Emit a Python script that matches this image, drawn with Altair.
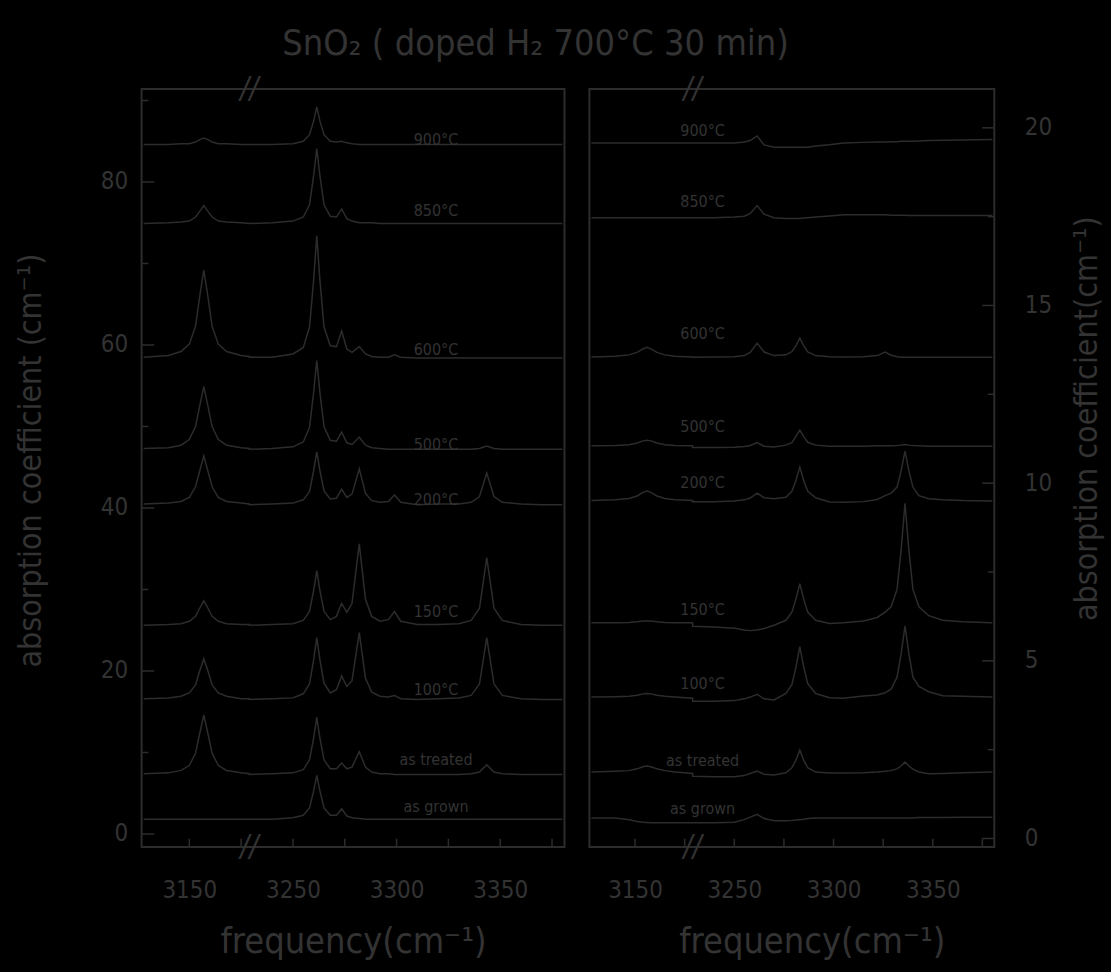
import altair as alt
import pandas as pd

# ---------------- text ----------------
TITLE = "SnO₂ ( doped H₂ 700°C 30 min)"
X_TITLE = "frequency(cm⁻¹)"
Y_TITLE_LEFT = "absorption coefficient (cm⁻¹)"
Y_TITLE_RIGHT = "absorption coefficient(cm⁻¹)"

series_names = ["900°C", "850°C", "600°C", "500°C", "200°C", "150°C", "100°C",
                "as treated", "as grown"]

# ---------------- axis break (3179 .. 3229 cm-1 removed) ----------------
BREAK_END = 3179
BREAK_GAP = 50
x_tick_values = [3200, 3250, 3300, 3350]          # display positions
x_tick_labels = ["3150", "3250", "3300", "3350"]  # printed labels
x_minor_ticks = [3200, 3225, 3250, 3275, 3300, 3325, 3350, 3375]
x_domain = [3177, 3381]
break_pos = 3229

left_y_ticks = [0, 20, 40, 60, 80]
left_y_minor = [0, 10, 20, 30, 40, 50, 60, 70, 80, 90]
left_y_domain = [-1.6, 91.4]
right_y_ticks = [0, 5, 10, 15, 20]
right_y_minor = [0, 2.5, 5, 7.5, 10, 12.5, 15, 17.5, 20]
right_y_domain = [-0.24, 21.09]

# ---------------- left panel: frequencies (cm-1) ----------------
left_freq = [3128, 3140, 3146, 3150, 3153, 3155, 3157, 3159, 3161, 3164, 3168, 3175, 3179,
             3229, 3240, 3250, 3255, 3258, 3260, 3261.5, 3263, 3265, 3268, 3271, 3273.5,
             3276, 3278.5, 3282, 3285, 3288, 3292, 3296, 3299, 3302, 3310, 3320, 3330,
             3336, 3340, 3343.5, 3347, 3351, 3360, 3370, 3380]
left_base = [84.6, 74.9, 58.4, 47.2, 40.4, 25.6, 16.5, 7.3, 1.8]
left_900 = [0, 0, .1, .1, .3, .6, .8, .6, .3, .1, .1, 0, 0,
            0, 0, .1, .4, 1.2, 2.9, 4.6, 2.9, 1.2, .4, .3, .4, .2, .1, 0, 0, 0, 0, 0, 0,
            0, 0, 0, 0, 0, 0, 0, 0, 0, 0, 0, 0]
left_850 = [0, .1, .2, .3, .8, 1.5, 2.2, 1.5, .8, .3, .2, .1, 0,
            0, .1, .3, .8, 2.3, 5.9, 9.2, 5.9, 2.3, .9, .8, 1.8, .6, .3, .1, .1, .1, 0, 0,
            0, 0, 0, 0, 0, 0, 0, 0, 0, 0, 0, 0, 0]
left_600 = [.1, .3, .8, 1.7, 3.9, 7.5, 10.8, 7.5, 3.9, 1.7, .8, .3, .2,
            .1, .1, .5, 1.3, 3.8, 9.6, 15, 9.6, 3.8, 1.5, 1.4, 3.3, 1.1, .7, 1.4, .5, .2,
            .1, .1, .4, .1, 0, 0, 0, 0, 0, 0, 0, 0, 0, 0, 0]
left_500 = [.1, .2, .5, 1.2, 2.8, 5.3, 7.7, 5.3, 2.8, 1.2, .5, .2, .1,
            0, .1, .3, .9, 2.7, 7, 10.9, 7, 2.8, 1.1, 1, 2.1, .8, .6, 1.5, .5, .2, .1,
            0, 0, 0, 0, 0, 0, 0, .1, .4, .1, 0, 0, 0, 0]
left_200 = [.1, .2, .4, .9, 2.2, 4.1, 6, 4.1, 2.2, .9, .4, .2, .1,
            0, .1, .2, .6, 1.6, 4.2, 6.5, 4.2, 1.7, .7, .8, 1.9, .9, 1.3, 4.4, 1.4, .5,
            .3, .4, 1.2, .3, 0, .1, .1, .3, 1, 3.9, 1, .3, .1, 0, 0]
left_150 = [0, .1, .2, .5, 1.1, 2.1, 3, 2.1, 1.1, .5, .2, .1, .1,
            0, .1, .2, .6, 1.7, 4.3, 6.7, 4.3, 1.7, .7, 1.1, 2.7, 1.6, 2.7, 10, 3.2, 1.1,
            .5, .7, 1.7, .5, .1, .1, .2, .6, 2.1, 8.3, 2.1, .6, .1, 0, 0]
left_100 = [.1, .2, .4, .8, 1.8, 3.5, 5, 3.5, 1.8, .8, .4, .1, .1,
            0, .1, .2, .7, 1.9, 4.9, 7.6, 4.9, 2, .8, 1.2, 2.9, 1.6, 2.3, 8.2, 2.6, .9,
            .4, .3, .5, .1, 0, .1, .2, .5, 1.9, 7.6, 1.9, .5, .1, 0, 0]
left_treated = [.1, .2, .5, 1.1, 2.6, 5, 7.3, 5, 2.6, 1.1, .5, .2, .1,
                0, .1, .2, .6, 1.8, 4.5, 7, 4.5, 1.8, .7, .7, 1.4, .7, .9, 2.8, .9, .3,
                .1, .1, 0, 0, 0, 0, 0, .1, .3, 1.2, .3, .1, 0, 0, 0]
left_grown = [0, 0, 0, 0, 0, 0, 0, 0, 0, 0, 0, 0, 0,
              0, 0, .2, .5, 1.4, 3.5, 5.4, 3.5, 1.4, .5, .5, 1.3, .4, .2, .1, 0, 0,
              0, 0, 0, 0, 0, 0, 0, 0, 0, 0, 0, 0, 0, 0, 0]
left_offsets = [left_900, left_850, left_600, left_500, left_200, left_150, left_100,
                left_treated, left_grown]
left_label_pos = 3319
left_label_v = [85.1, 76.4, 59.4, 47.7, 41.0, 27.2, 17.7, 9.1, 3.3]

# ---------------- right panel ----------------
right_freq = [3128, 3140, 3147, 3151, 3154, 3156, 3158, 3161, 3165, 3170, 3179,
              3229, 3240, 3250, 3255, 3258, 3261.5, 3265, 3270, 3276, 3279, 3281, 3283,
              3285, 3287, 3291, 3298, 3305, 3315, 3322, 3326, 3329, 3332, 3334, 3336,
              3338, 3340, 3343, 3348, 3355, 3365, 3380]
right_base = [19.57, 17.47, 13.54, 11.04, 9.5, 6.07, 3.98, 1.87, 0.58]
right_900 = [0, 0, 0, 0, 0, 0, 0, 0, 0, 0, 0,
             0, 0, 0, .03, .07, .2, -.05, -.12, -.12, -.12, -.12, -.12, -.12, -.12, -.08,
             -.05, 0, .02, .03, .03, .04, .04, .05, .05, .05, .05, .06, .07, .08, .09, .1]
right_850 = [0, 0, 0, 0, 0, 0, 0, 0, 0, 0, 0,
             0, 0, .02, .04, .12, .34, .1, 0, -.02, -.02, -.02, -.02, -.01, 0, .02, .05,
             .08, .08, .08, .08, .07, .07, .07, .07, .06, .06, .06, .06, .06, .06, .06]
right_600 = [.01, .03, .07, .14, .24, .28, .24, .14, .07, .03, .01,
             0, .01, .02, .05, .14, .4, .15, .05, .07, .16, .32, .54, .32, .15, .05, .02,
             .01, .02, .05, .15, .06, .02, 0, 0, 0, 0, 0, 0, 0, 0, 0]
right_500 = [.01, .02, .04, .09, .15, .17, .15, .09, .04, .02, .01,
             -.04, -.04, -.03, -.01, .02, .1, 0, -.02, .03, .1, .27, .45, .27, .11, .03, 0,
             0, 0, .01, .01, .01, .02, .03, .05, .03, .02, .01, 0, 0, 0, 0]
right_200 = [.01, .03, .07, .14, .24, .28, .24, .14, .07, .03, .01,
             -.02, -.02, 0, .03, .08, .22, .09, .06, .1, .27, .57, .95, .57, .27, .09, -.03,
             -.04, -.02, .04, .15, .22, .39, .84, 1.4, .84, .39, .15, .06, .03, .01, 0]
right_150 = [0, 0, .01, .03, .05, .05, .05, .03, .01, 0, 0,
             -.1, -.12, -.15, -.2, -.22, -.2, -.16, -.07, .07, .3, .66, 1.1, .66, .3, .07,
             -.02, 0, .05, .15, .3, .45, .94, 2.02, 3.36, 2.02, .94, .45, .2, .07, .03, 0]
right_100 = [0, .01, .02, .05, .09, .1, .09, .05, .02, 0, -.03,
             -.12, -.12, -.1, -.05, 0, .08, -.05, -.08, .1, .35, .82, 1.42, .84, .38, .1,
             -.02, -.03, .03, .06, .12, .22, .56, 1.2, 2.0, 1.2, .56, .3, .15, .04, .02, 0]
right_treated = [0, .02, .04, .09, .15, .17, .15, .09, .04, 0, -.04,
                 -.12, -.13, -.13, -.1, -.04, .03, -.06, -.08, -.02, .12, .33, .62, .33,
                 .12, 0, -.03, -.03, -.02, 0, .02, .04, .09, .17, .28, .17, .08, 0, -.05,
                 -.04, -.02, 0]
right_grown = [0, 0, -.05, -.1, -.12, -.13, -.14, -.14, -.14, -.14, -.14,
               -.14, -.14, -.12, -.05, .02, .1, -.02, -.08, -.08, -.07, -.06, -.05, -.04,
               -.02, 0, 0, 0, 0, 0, 0, 0, 0, 0, 0, 0, 0, .01, .01, .01, .02, .02]
right_offsets = [right_900, right_850, right_600, right_500, right_200, right_150,
                 right_100, right_treated, right_grown]
right_label_pos = 3234
right_label_v = [19.9, 17.9, 14.2, 11.58, 10.0, 6.44, 4.34, 2.18, 0.83]

# ---------------- style ----------------
BG = "#000000"
LINE = "#2c2c2c"
TEXT = "#333333"
FONT = "DejaVu Sans Condensed, Liberation Sans Narrow, Liberation Sans, sans-serif"
LEFT_W, RIGHT_W, PANEL_H = 424, 406, 760


def display_pos(f):
    return f + BREAK_GAP if f <= BREAK_END else f


def spectra_frame(freq, bases, offsets):
    rows = []
    for name, base, offs in zip(series_names, bases, offsets):
        for f, o in zip(freq, offs):
            rows.append({"series": name, "freq": f, "d": display_pos(f), "v": base + o})
    return pd.DataFrame(rows)


label_expr = " : ".join(f"datum.value == {v} ? '{l}'" for v, l in zip(x_tick_values, x_tick_labels)) + " : ''"


def panel(freq, bases, offsets, label_pos, label_v, ydom, yticks, ymajor_step, yminor,
          width, orient, ytitle, ytitle_x, ytitle_y, xtitle_x):
    df = spectra_frame(freq, bases, offsets)
    xs = alt.Scale(domain=x_domain, nice=False, zero=False)
    ys = alt.Scale(domain=ydom, nice=False, zero=False)
    xaxis = alt.Axis(values=x_tick_values, labelExpr=label_expr, title=X_TITLE,
                     ticks=False, domain=False, grid=False, labelPadding=32,
                     labelFont=FONT, labelFontSize=24, labelColor=TEXT,
                     titleFont=FONT, titleFontSize=36, titleFontWeight="normal",
                     titleColor=TEXT, titleX=xtitle_x, titleY=95, titleBaseline="middle",
                     titleAnchor="middle", titleAlign="center")
    yaxis = alt.Axis(values=yticks, orient=orient, title=ytitle, ticks=False, domain=False,
                     grid=False, labelPadding=14 if orient == "left" else 30,
                     labelFont=FONT, labelFontSize=24, labelColor=TEXT,
                     titleFont=FONT, titleFontSize=32, titleFontWeight="normal",
                     titleColor=TEXT, titleAngle=270, titleX=ytitle_x, titleY=ytitle_y,
                     titleBaseline="middle", titleAlign="center")
    X = lambda f: alt.X(f, scale=xs, axis=xaxis)
    Y = lambda f: alt.Y(f, scale=ys, axis=yaxis)
    lines = alt.Chart(df).mark_line(color=LINE, strokeWidth=1.5).encode(
        x=X("d:Q"), y=Y("v:Q"), detail="series:N")
    lab_df = pd.DataFrame({"label": series_names, "d": [label_pos] * len(series_names),
                           "v": label_v})
    labels = alt.Chart(lab_df).mark_text(font=FONT, fontSize=16, color=TEXT).encode(
        x=X("d:Q"), y=Y("v:Q"), text="label:N")
    span_y = ydom[1] - ydom[0]
    span_x = x_domain[1] - x_domain[0]
    xt = pd.DataFrame({"d": x_minor_ticks, "v": [ydom[0]] * len(x_minor_ticks),
                       "v1": [ydom[0] + span_y * 0.011] * len(x_minor_ticks)})
    xticks = alt.Chart(xt).mark_rule(color=LINE, strokeWidth=1.5).encode(
        x=X("d:Q"), y=Y("v:Q"), y2="v1:Q")
    edge = x_domain[0] if orient == "left" else x_domain[1]
    sign = 1 if orient == "left" else -1
    yt = pd.DataFrame({"v": yminor, "d": [edge] * len(yminor),
                       "d1": [edge + sign * span_x * (0.03 if (y % ymajor_step == 0) else 0.016)
                              for y in yminor]})
    yticks_l = alt.Chart(yt).mark_rule(color=LINE, strokeWidth=1.5).encode(
        y=Y("v:Q"), x=X("d:Q"), x2="d1:Q")
    br = pd.DataFrame({"d": [break_pos, break_pos], "v": [ydom[1], ydom[0]]})
    breaks = alt.Chart(br).mark_text(font=FONT, fontSize=30, color=TEXT, text="//",
                                     fontStyle="italic").encode(x=X("d:Q"), y=Y("v:Q"))
    return alt.layer(lines, labels, xticks, yticks_l, breaks).properties(
        width=width, height=PANEL_H)


left = panel(left_freq, left_base, left_offsets, left_label_pos, left_label_v,
             left_y_domain, left_y_ticks, 20, left_y_minor, LEFT_W, "left",
             Y_TITLE_LEFT, -111, 372, LEFT_W / 2)
right = panel(right_freq, right_base, right_offsets, right_label_pos, right_label_v,
              right_y_domain, right_y_ticks, 5, right_y_minor, RIGHT_W, "right",
              Y_TITLE_RIGHT, 92, 330, 223)

chart = alt.hconcat(left, right, spacing=20).properties(
    title=alt.TitleParams(TITLE, font=FONT, fontSize=36, color=TEXT, fontWeight="normal",
                          anchor="middle", dx=-23, offset=10),
    background=BG,
    padding={"left": 14, "top": 25, "right": 8, "bottom": 10},
).configure_view(stroke=LINE, strokeWidth=2).configure_concat(spacing=20)

chart.save("out.html", embed_options={"renderer": "svg", "actions": False})
